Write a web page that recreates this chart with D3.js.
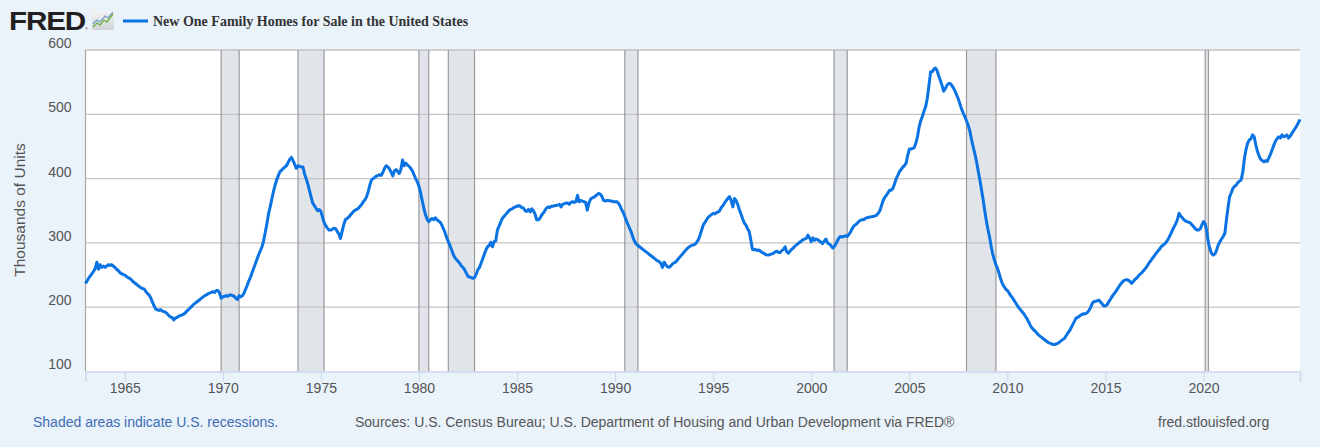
<!DOCTYPE html>
<html>
<head>
<meta charset="utf-8">
<script src="https://cdn.jsdelivr.net/npm/d3@7"></script>
<style>
  html, body { margin: 0; padding: 0; background: #eaf2fa; }
  svg { display: block; }
</style>
</head>
<body>
<svg id="chart" width="1320" height="447"></svg>
<script>
// ---- DATA ----
const startYear = 1963; // monthly series, January 1963 .. December 2024
const homesForSale = [
  // 1963
  237, 241, 245, 249, 252, 256, 260, 270, 259, 266, 262, 264,
  // 1964
  262, 264, 266, 265, 266, 264, 262, 259, 257, 254, 252, 251,
  // 1965
  250, 248, 246, 245, 243, 240, 238, 236, 234, 232, 230, 229,
  // 1966
  228, 224, 221, 219, 214, 208, 202, 197, 196, 195, 196, 194,
  // 1967
  193, 192, 190, 187, 185, 184, 180, 183, 184, 186, 187, 188,
  // 1968
  189, 191, 194, 196, 199, 201, 204, 206, 208, 210, 212, 214,
  // 1969
  216, 218, 219, 221, 222, 223, 224, 223, 226, 226, 222, 214,
  // 1970
  216, 217, 218, 217, 219, 219, 218, 217, 214, 212, 218, 216,
  // 1971
  218, 222, 228, 234, 241, 247, 254, 261, 268, 275, 282, 288,
  // 1972
  294, 304, 316, 330, 345, 356, 368, 380, 390, 398, 405, 411,
  // 1973
  413, 416, 418, 420, 425, 430, 433, 428, 422, 416, 420, 419,
  // 1974
  418, 418, 408, 400, 392, 382, 372, 362, 358, 354, 350, 352,
  // 1975
  349, 340, 332, 327, 323, 320, 320, 321, 323, 322, 318, 314,
  // 1976
  307, 318, 328, 336, 338, 340, 343, 346, 349, 351, 352, 354,
  // 1977
  357, 360, 364, 367, 372, 380, 390, 398, 400, 402, 404, 405,
  // 1978
  406, 405, 410, 416, 420, 418, 415, 410, 404, 412, 414, 411,
  // 1979
  408, 415, 429, 420, 424, 421, 419, 416, 412, 406, 400, 395,
  // 1980
  388, 378, 366, 354, 344, 337, 333, 336, 338, 336, 339, 336,
  // 1981
  334, 332, 328, 322, 316, 308, 302, 296, 289, 282, 277, 274,
  // 1982
  271, 268, 264, 262, 258, 253, 248, 247, 246, 245, 246, 251,
  // 1983
  258, 262, 268, 275, 282, 289, 294, 296, 301, 294, 302, 303,
  // 1984
  320, 326, 332, 338, 341, 344, 347, 350, 352, 353, 355, 356,
  // 1985
  357, 358, 357, 355, 354, 350, 349, 352, 348, 353, 350, 345,
  // 1986
  336, 336, 338, 343, 346, 350, 354, 356, 355, 357, 357, 358,
  // 1987
  358, 359, 360, 356, 360, 361, 362, 362, 360, 363, 364, 363,
  // 1988
  364, 374, 364, 366, 365, 364, 363, 351, 362, 368, 370, 371,
  // 1989
  373, 375, 377, 376, 372, 366, 365, 366, 366, 365, 365, 364,
  // 1990
  364, 364, 362, 358, 352, 347, 341, 334, 328, 322, 316, 308,
  // 1991
  302, 298, 296, 294, 292, 290, 288, 286, 284, 282, 280, 278,
  // 1992
  276, 274, 272, 271, 268, 262, 270, 266, 263, 262, 264, 267,
  // 1993
  269, 270, 273, 276, 279, 282, 285, 288, 291, 293, 295, 296,
  // 1994
  297, 298, 301, 305, 312, 320, 328, 332, 336, 340, 342, 344,
  // 1995
  346, 345, 347, 348, 350, 355, 358, 362, 366, 369, 372, 366,
  // 1996
  356, 369, 366, 360, 352, 345, 338, 331, 328, 322, 318, 305,
  // 1997
  290, 289, 290, 288, 289, 287, 285, 284, 282, 281, 281, 282,
  // 1998
  283, 284, 286, 287, 285, 285, 288, 290, 294, 286, 284, 287,
  // 1999
  290, 292, 295, 297, 299, 301, 303, 305, 306, 307, 312, 308,
  // 2000
  302, 308, 304, 306, 305, 303, 301, 299, 303, 306, 300, 298,
  // 2001
  296, 292, 294, 298, 303, 308, 310, 309, 310, 311, 310, 313,
  // 2002
  317, 322, 326, 328, 330, 333, 335, 336, 336, 338, 339, 340,
  // 2003
  340, 341, 341, 342, 343, 346, 350, 358, 366, 371, 374, 378,
  // 2004
  382, 382, 385, 392, 400, 405, 411, 414, 418, 420, 424, 436,
  // 2005
  446, 446, 447, 448, 455, 465, 480, 490, 497, 505, 512, 525,
  // 2006
  545, 566, 566, 570, 572, 568, 560, 553, 545, 536, 540, 545,
  // 2007
  548, 548, 545, 541, 536, 530, 524, 516, 508, 502, 496, 490,
  // 2008
  483, 474, 462, 450, 440, 428, 414, 400, 385, 370, 352, 336,
  // 2009
  322, 310, 296, 283, 274, 266, 260, 252, 243, 236, 232, 228,
  // 2010
  226, 222, 218, 215, 211, 207, 203, 199, 196, 193, 190, 186,
  // 2011
  182, 177, 172, 168, 165, 163, 160, 157, 155, 153, 151, 149,
  // 2012
  147, 145, 144, 143, 142, 142, 143, 144, 146, 148, 150, 152,
  // 2013
  156, 160, 163, 168, 173, 178, 183, 184, 186, 188, 189, 190,
  // 2014
  190, 192, 195, 200, 206, 209, 209, 210, 211, 208, 205, 202,
  // 2015
  202, 204, 208, 212, 216, 220, 223, 227, 231, 235, 238, 241,
  // 2016
  242, 243, 242, 240, 237, 240, 243, 245, 248, 251, 253, 256,
  // 2017
  259, 262, 266, 270, 273, 277, 280, 284, 287, 290, 294, 296,
  // 2018
  298, 301, 304, 309, 314, 320, 325, 330, 336, 346, 342, 339,
  // 2019
  336, 334, 333, 332, 331, 328, 325, 322, 320, 320, 322, 328,
  // 2020
  333, 330, 318, 300, 290, 283, 281, 283, 289, 297, 302, 306,
  // 2021
  310, 315, 335, 355, 372, 378, 385, 388, 390, 394, 396, 398,
  // 2022
  410, 432, 445, 455, 460, 462, 468, 465, 452, 442, 435, 430,
  // 2023
  428, 426, 428, 427, 432, 438, 445, 452, 458, 462, 465, 463,
  // 2024
  468, 465, 466, 468, 463, 466, 470, 474, 478, 482, 487, 492
];
const recessionStarts = ["1969-12-01", "1973-11-01", "1980-01-01", "1981-07-01", "1990-07-01", "2001-03-01", "2007-12-01", "2020-02-01"];
const recessionEnds   = ["1970-11-01", "1975-03-01", "1980-07-01", "1982-11-01", "1991-03-01", "2001-11-01", "2009-06-01", "2020-04-01"];
const yTicks = [100, 200, 300, 400, 500, 600];
const xTickYears = [1965, 1970, 1975, 1980, 1985, 1990, 1995, 2000, 2005, 2010, 2015, 2020];
const seriesTitle = "New One Family Homes for Sale in the United States";
const yAxisTitle = "Thousands of Units";
const footLeft = "Shaded areas indicate U.S. recessions.";
const footMid = "Sources: U.S. Census Bureau; U.S. Department of Housing and Urban Development via FRED®";
const footRight = "fred.stlouisfed.org";

// ---- CHART ----
const svg = d3.select("#chart");
const W = 1320, H = 447;
const m = { left: 85.5, right: 1300, top: 50, bottom: 371.5 };
const lineColor = "#0a73e4";
const font = "'Liberation Sans', Arial, sans-serif";

svg.append("rect").attr("width", W).attr("height", H).attr("fill", "#eaf2fa");

const parse = d3.timeParse("%Y-%m-%d");
const data = homesForSale.map((v, i) => ({ date: new Date(startYear, i, 1), value: v }));

const x = d3.scaleTime()
  .domain([new Date(startYear, 0, 1), data[data.length - 1].date])
  .range([m.left, m.right]);
const y = d3.scaleLinear().domain([100, 600]).range([m.bottom, m.top]);

// plot background
svg.append("rect")
  .attr("x", m.left).attr("y", m.top)
  .attr("width", m.right - m.left).attr("height", m.bottom - m.top)
  .attr("fill", "#ffffff");

// recession fills
const rec = recessionStarts.map((s, i) => ({ s: parse(s), e: parse(recessionEnds[i]) }));
svg.append("g").selectAll("rect").data(rec).join("rect")
  .attr("x", d => x(d.s)).attr("y", m.top)
  .attr("width", d => x(d.e) - x(d.s)).attr("height", m.bottom - m.top)
  .attr("fill", "#e1e5ea");

// gridlines
svg.append("g").selectAll("line").data(yTicks.filter(t => t > 100)).join("line")
  .attr("x1", m.left).attr("x2", m.right)
  .attr("y1", d => y(d)).attr("y2", d => y(d))
  .attr("stroke", "#c4c4c4").attr("stroke-width", 1.3);

// recession borders
const rb = svg.append("g").attr("stroke", "#9a9a9a").attr("stroke-width", 1.2);
rec.forEach(d => {
  [d.s, d.e].forEach(t => {
    rb.append("line").attr("x1", x(t)).attr("x2", x(t)).attr("y1", m.top).attr("y2", m.bottom);
  });
});

// left axis line
svg.append("line").attr("x1", m.left).attr("x2", m.left).attr("y1", m.top).attr("y2", m.bottom)
  .attr("stroke", "#a8a8a8").attr("stroke-width", 1.2);

// x axis
const xAxis = d3.axisBottom(x)
  .tickValues(xTickYears.map(yr => new Date(yr, 0, 1)))
  .tickFormat(d3.timeFormat("%Y"))
  .tickSize(10).tickPadding(2);
const gx = svg.append("g").attr("transform", `translate(0,${m.bottom})`).call(xAxis);
gx.select(".domain").attr("stroke", "#ccd6eb").attr("stroke-width", 1.5);
gx.selectAll(".tick line").attr("stroke", "#ccd6eb");
gx.selectAll(".tick text").attr("fill", "#555").attr("font-family", font).attr("font-size", 14)
  .attr("dy", "0.71em");

// y axis labels
const yAxis = d3.axisLeft(y).tickValues(yTicks).tickSize(0).tickPadding(14);
const gy = svg.append("g").attr("transform", `translate(${m.left},0)`).call(yAxis);
gy.select(".domain").remove();
gy.selectAll(".tick text").attr("fill", "#555").attr("font-family", font).attr("font-size", 14)
  .attr("dy", "-0.18em");

// y title
svg.append("text")
  .attr("transform", "translate(25,210) rotate(-90)")
  .attr("text-anchor", "middle")
  .attr("font-family", font).attr("font-size", 15.5).attr("fill", "#555")
  .text(yAxisTitle);

// line
const line = d3.line().x(d => x(d.date)).y(d => y(d.value));
svg.append("path").datum(data)
  .attr("d", line).attr("fill", "none")
  .attr("stroke", lineColor).attr("stroke-width", 3).attr("stroke-linejoin", "round");

// header: FRED logo
svg.append("text").attr("x", 9).attr("y", 29.5)
  .attr("font-family", "'Liberation Sans', Arial, sans-serif").attr("font-weight", 900)
  .attr("font-size", 25).attr("fill", "#231f20")
  .attr("textLength", 76).attr("lengthAdjust", "spacingAndGlyphs")
  .style("letter-spacing", "-1px")
  .text("FRED");
svg.append("text").attr("x", 85).attr("y", 30).attr("font-family", font)
  .attr("font-size", 4).attr("fill", "#231f20").text("®");
const defs = svg.append("defs");
const lg = defs.append("linearGradient").attr("id", "icg").attr("x1", 0).attr("y1", 0).attr("x2", 0).attr("y2", 1);
lg.append("stop").attr("offset", "0").attr("stop-color", "#f4f4f4");
lg.append("stop").attr("offset", "1").attr("stop-color", "#cfd3d6");
svg.append("rect").attr("x", 92).attr("y", 11).attr("width", 22).attr("height", 19).attr("fill", "url(#icg)");
svg.append("path").attr("d", "M93,27 L97,23 L100,25 L104,20 L107,22 L113,14")
  .attr("fill", "none").attr("stroke", "#6fae3a").attr("stroke-width", 1.3);
svg.append("path").attr("d", "M93,24 L97,20 L100,22 L105,16 L108,18 L113,12")
  .attr("fill", "none").attr("stroke", "#7a9cc9").attr("stroke-width", 1.3);

// legend
svg.append("line").attr("x1", 123).attr("x2", 148).attr("y1", 21).attr("y2", 21)
  .attr("stroke", lineColor).attr("stroke-width", 3);
svg.append("text").attr("x", 153).attr("y", 26)
  .attr("font-family", "'Liberation Serif', 'Times New Roman', serif").attr("font-weight", "bold")
  .attr("font-size", 14).attr("fill", "#333")
  .text(seriesTitle);

// footer
svg.append("text").attr("x", 33).attr("y", 427).attr("font-family", font).attr("font-size", 14)
  .attr("fill", "#3d6db5").text(footLeft);
svg.append("text").attr("x", 355).attr("y", 427).attr("font-family", font).attr("font-size", 14)
  .attr("fill", "#555").text(footMid);
svg.append("text").attr("x", 1158).attr("y", 427).attr("font-family", font).attr("font-size", 14)
  .attr("fill", "#555").text(footRight);
</script>
</body>
</html>
